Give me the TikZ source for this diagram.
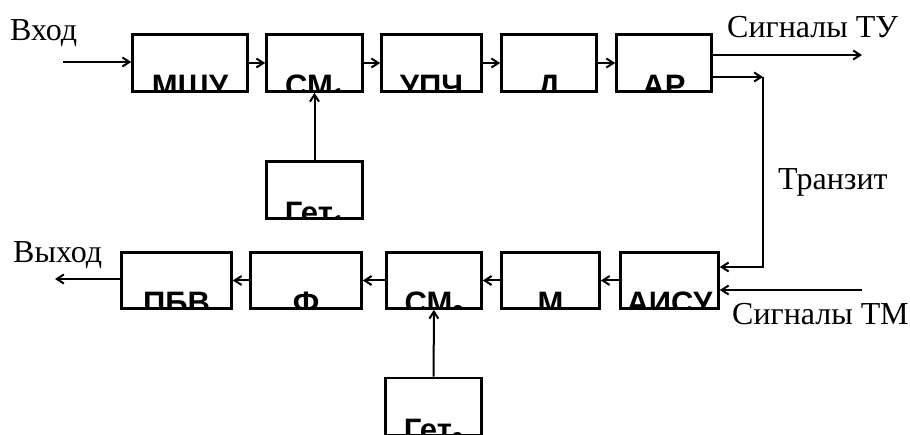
\documentclass[tikz,border=0pt]{standalone}
\usepackage{fontspec}
\setmainfont{Liberation Serif}
\newfontfamily\blokfont{Liberation Sans}
\usepackage{tikz}
\usetikzlibrary{arrows.meta}
\tikzset{
	blok/.style={draw, line width=2.6pt, inner sep=0pt},
	strelka/.style={-{Straight Barb[length=7pt,width=9pt]}, line width=2pt},
	texte/.style={font=\fontsize{32}{32}\selectfont, inner sep=0pt, anchor=base west}
}
\newcommand{\blok}[6] % {nom}{x}{y}{largeur}{hauteur}{texte}, texte coupe en bas
{
	\node [blok, minimum width=#4pt, minimum height=#5pt,
		path picture={\node [anchor=base, inner sep=0pt, font=\blokfont\bfseries\fontsize{31}{31}\selectfont]
			at ([yshift=-5pt]path picture bounding box.south) {#6};}] (#1) at (#2,#3) {};
}
\newcommand{\ind}[1]{\raisebox{-6pt}{\fontsize{20}{20}\selectfont #1}}

\begin{document}
\begin{tikzpicture}[x=1pt, y=-1pt]
	\useasboundingbox (0,0) rectangle (910,435);
	
	% ligne du haut
	\blok{mshu}{190}{63}{115}{57}{МШУ}
	\blok{sm1}{314.5}{63}{96}{57}{СМ\ind{1}}
	\blok{upch}{431.5}{63}{100}{57}{УПЧ}
	\blok{d}{549}{63}{95}{57}{Д}
	\blok{ar}{664}{63}{95}{57}{АР}
	\blok{get1}{314.5}{190}{96}{57}{Гет\ind{1}}
	
	% ligne du bas
	\blok{pbv}{176.5}{280.5}{110}{56}{ПБВ}
	\blok{f}{306}{280.5}{111}{56}{Ф}
	\blok{sm2}{434}{280.5}{95}{56}{СМ\ind{2}}
	\blok{m}{550.5}{280.5}{98}{56}{М}
	\blok{aisu}{669.5}{280.5}{98}{56}{АИСУ}
	\blok{get2}{433.5}{406.5}{96}{57}{Гет\ind{2}}
	
	\coordinate (in) at (63,62);
	\coordinate (tu) at (862,55);
	\coordinate (tr) at (763,77);
	\coordinate (tr2) at (763,267);
	\coordinate (tm) at (862,290);
	\coordinate (out) at (55,279);
	
	\draw [strelka] (in) -- (mshu.west |- in);
	\draw [strelka] (mshu) -- (sm1);
	\draw [strelka] (sm1) -- (upch);
	\draw [strelka] (upch) -- (d);
	\draw [strelka] (d) -- (ar);
	\draw [strelka] (ar.east |- tu) -- (tu);
	\draw [strelka] (ar.east |- tr) -- (tr);
	\draw [strelka] (tr) -- (tr2) -- (aisu.east |- tr2);
	\draw [strelka] (tm) -- (aisu.east |- tm);
	\draw [strelka] (aisu) -- (m);
	\draw [strelka] (m) -- (sm2);
	\draw [strelka] (sm2) -- (f);
	\draw [strelka] (f) -- (pbv);
	\draw [strelka] (pbv.west |- out) -- (out);
	\draw [strelka] (get1) -- (sm1);
	\draw [strelka] (get2) -- (sm2);
	
	\node [texte] (vhod) at (10,41) {Вход};
	\node [texte] (sigtu) at (727,38) {Сигналы ТУ};
	\node [texte] (tranzit) at (778,190) {Транзит};
	\node [texte] (vyhod) at (13,263) {Выход};
	\node [texte] (sigtm) at (732,325) {Сигналы ТМ};
			
\end{tikzpicture}
\end{document}
